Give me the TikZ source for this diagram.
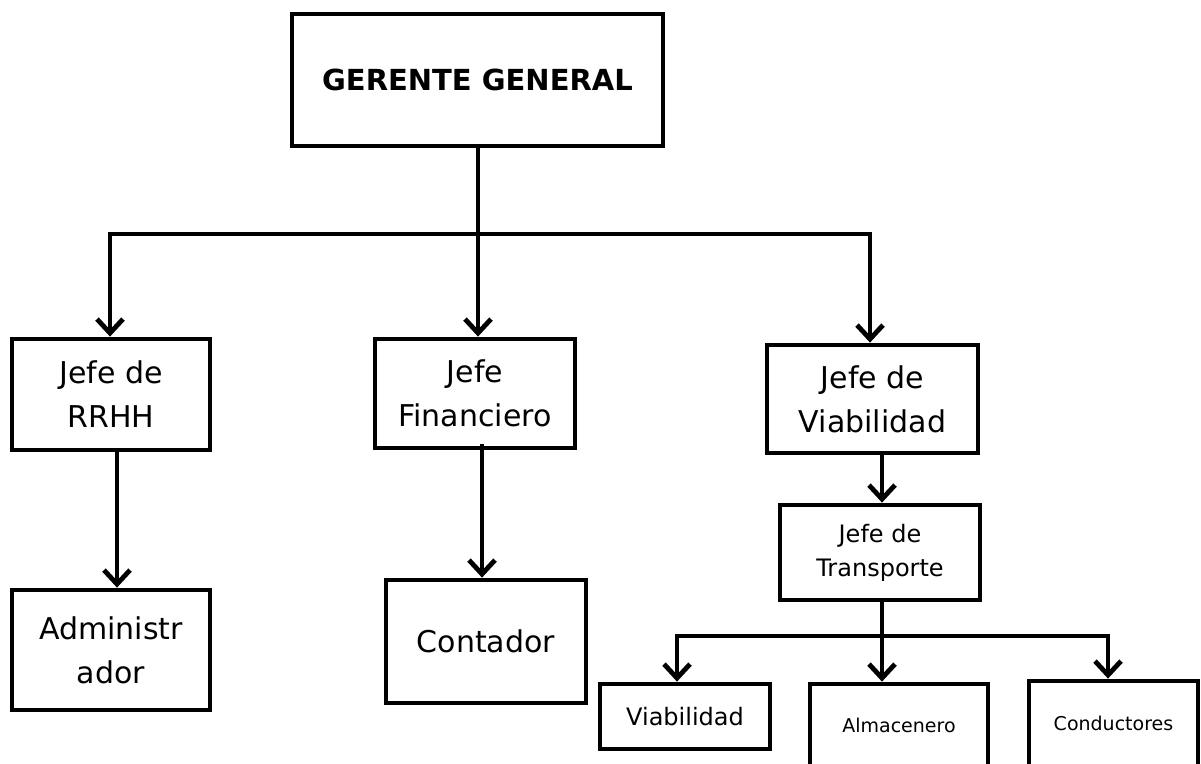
\documentclass[tikz,border=0pt]{standalone}
\usepackage{fontspec}
\setmainfont{DejaVu Sans}
\usetikzlibrary{arrows.meta}
\begin{document}
\begin{tikzpicture}[x=1pt,y=-1pt,
  box/.style={draw, line width=4.8pt, inner sep=0pt, align=center, rectangle},
  bigtxt/.style={box, font=\fontsize{30}{44}\selectfont},
  midtxt/.style={box, font=\fontsize{24}{34}\selectfont},
  smalltxt/.style={box, font=\fontsize{19}{26}\selectfont},
  conn/.style={line width=4.8pt},
  hconn/.style={conn, line cap=rect},
  arr/.style={conn, -{Straight Barb[length=14pt,width=26pt]}},
]
\useasboundingbox (0,0) rectangle (1201,763);
\clip (0,0) rectangle (1201,763);

% boxes
\node[bigtxt, minimum width=371pt, minimum height=132pt, font=\fontsize{29}{43}\selectfont\bfseries] (ger) at (477.5,80) {GERENTE GENERAL};
\node[bigtxt, minimum width=198pt, minimum height=111pt] (rrhh) at (111,394.5) {Jefe de\\RRHH};
\node[bigtxt, minimum width=200pt, minimum height=109pt] (fin) at (475,393.5) {Jefe\\Financiero};
\node[bigtxt, minimum width=211pt, minimum height=108pt] (jvia) at (872.5,399) {Jefe de\\Viabilidad};
\node[midtxt, minimum width=200pt, minimum height=95pt] (trans) at (880,552.5) {Jefe de\\Transporte};
\node[bigtxt, minimum width=198pt, minimum height=120pt] (adm) at (111,650) {Administr\\ador};
\node[bigtxt, minimum width=200pt, minimum height=123pt] (cont) at (486,641.5) {Contador};
\node[midtxt, minimum width=170pt, minimum height=65pt] (via) at (685,716.5) {Viabilidad};
\node[smalltxt, minimum width=178pt, minimum height=82pt] (alm) at (899,725) {Almacenero};
\node[smalltxt, minimum width=169pt, minimum height=85pt] (cond) at (1113.5,723.5) {Conductores};

% top level connectors
\coordinate (hL) at (110,234);
\coordinate (hC) at (478,234);
\coordinate (hR) at (870,234);
\draw[conn] (hC |- ger.south) -- (hC);
\draw[hconn] (hL) -- (hR);
\draw[arr] (hL) -- (hL |- rrhh.north);
\draw[arr] (hC) -- (hC |- fin.north);
\draw[arr] (hR) -- (hR |- jvia.north);

% second level
\coordinate (v1) at (117,0);
\coordinate (v2) at (482,444);
\coordinate (v3) at (882,0);
\draw[arr] (v1 |- rrhh.south) -- (v1 |- adm.north);
\draw[arr] (v2) -- (v2 |- cont.north);
\draw[arr] (v3 |- jvia.south) -- (v3 |- trans.north);

% transport branch
\coordinate (tL) at (677,636);
\coordinate (tC) at (882,636);
\coordinate (tR) at (1108,636);
\draw[conn] (tC |- trans.south) -- (tC);
\draw[hconn] (tL) -- (tR);
\draw[arr] (tL) -- (tL |- via.north);
\draw[arr] (tC) -- (tC |- alm.north);
\draw[arr] (tR) -- (tR |- cond.north);
\end{tikzpicture}
\end{document}
